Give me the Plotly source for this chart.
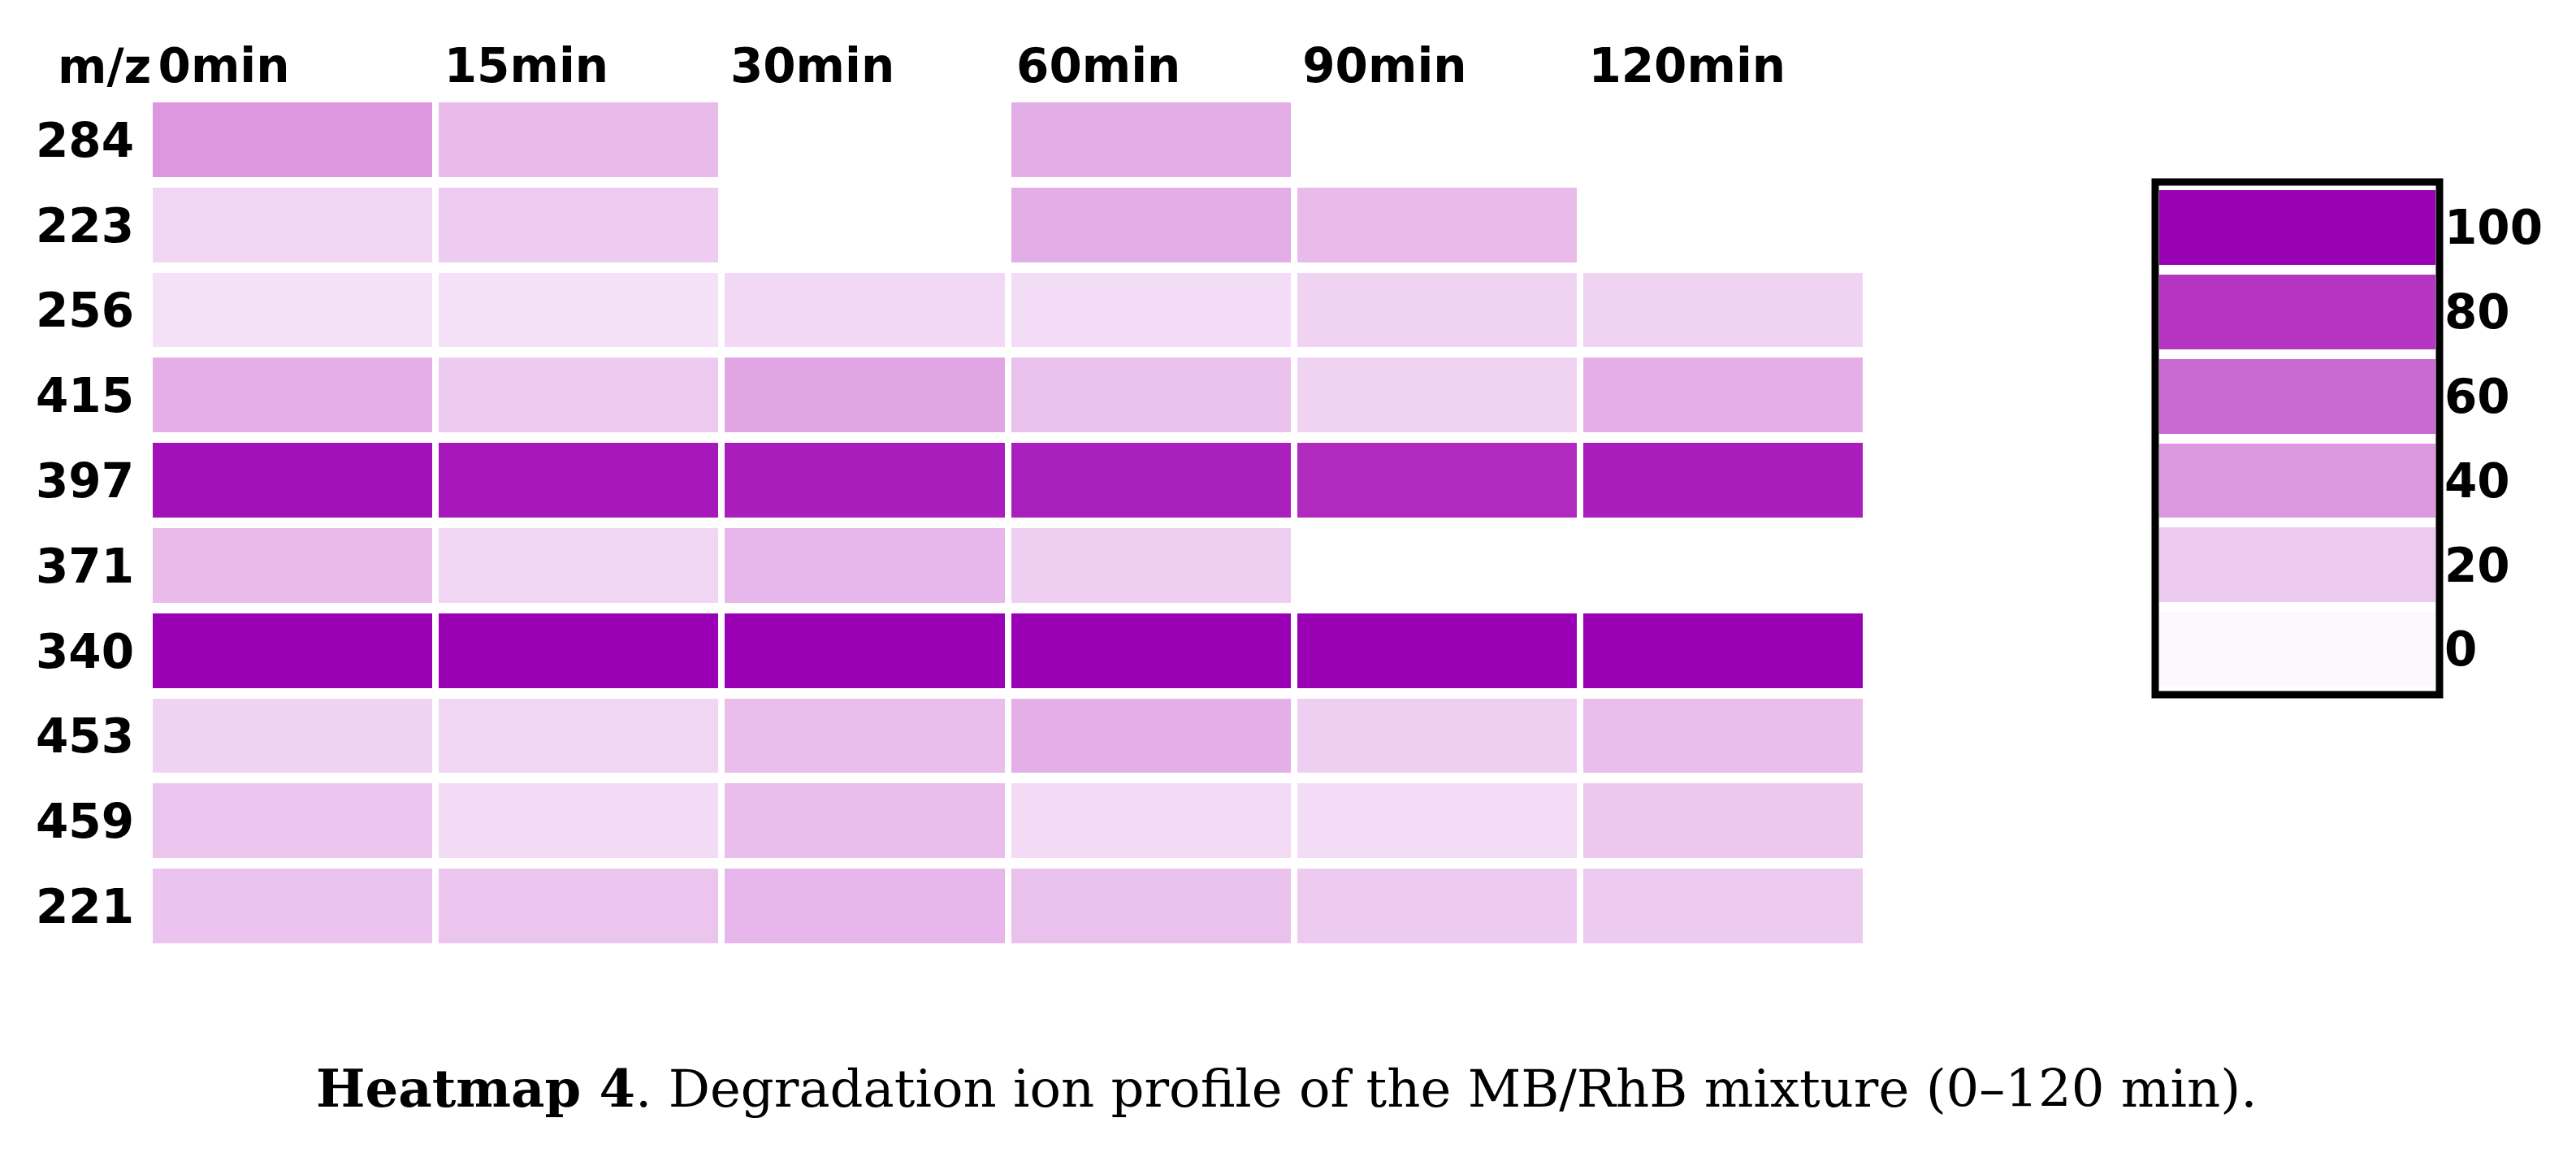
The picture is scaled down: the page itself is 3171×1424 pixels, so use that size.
import plotly.graph_objects as go

# m/z ions (rows) and sampling times (columns)
ions = ["284", "223", "256", "415", "397", "371", "340", "453", "459", "221"]
times = ["0min", "15min", "30min", "60min", "90min", "120min"]

# relative intensity (%), None = not detected
ion_284 = [41, 26, None, 32, None, None]
ion_223 = [15, 19, None, 32, 26, None]
ion_256 = [10, 10, 14, 12, 16, 16]
ion_415 = [31, 20, 35, 24, 16, 31]
ion_397 = [94, 91, 89, 88, 84, 89]
ion_371 = [26, 15, 28, 18, None, None]
ion_340 = [100, 100, 100, 100, 100, 100]
ion_453 = [16, 15, 25, 31, 18, 25]
ion_459 = [22, 13, 25, 13, 12, 21]
ion_221 = [23, 22, 28, 24, 20, 20]

scale_levels = [100, 80, 60, 40, 20, 0]
scale_labels = ["100", "80", "60", "40", "20", "0"]

z = [ion_284, ion_223, ion_256, ion_415, ion_397,
     ion_371, ion_340, ion_453, ion_459, ion_221]

purple = [
    [0.0, "#fdf8fd"],
    [0.2, "#edcaf0"],
    [0.4, "#dd99e0"],
    [0.6, "#c86ad0"],
    [0.8, "#b535c2"],
    [1.0, "#9a00b4"],
]

W, H = 3171, 1424
bold = dict(family="DejaVu Sans", size=58, color="black", weight="bold")

fig = go.Figure()
fig.add_trace(go.Heatmap(
    z=z, x=list(range(len(times))), y=ions,
    colorscale=purple, zmin=0, zmax=100,
    xgap=8, ygap=13, showscale=False,
    hovertemplate="m/z %{y}<br>%{x}<br>%{z}<extra></extra>",
))

# legend drawn as its own little heatmap
fig.add_trace(go.Heatmap(
    z=[[v] for v in scale_levels], x=[0], y=scale_labels,
    colorscale=purple, zmin=0, zmax=100,
    ygap=12, showscale=False, xaxis="x2", yaxis="y2",
    hoverinfo="skip",
))

fig.update_layout(
    width=W, height=H,
    margin=dict(l=0, r=0, t=0, b=0),
    paper_bgcolor="white", plot_bgcolor="white",
    showlegend=False,
    xaxis=dict(
        domain=[176 / W, 2289 / W], range=[-0.5, 5.5], side="top",
        tickvals=[i - 0.47 for i in range(len(times))], ticktext=times,
        ticklabelposition="outside right", tickfont=bold,
        ticks="", ticklabelstandoff=6,
        showgrid=False, zeroline=False, showline=False,
    ),
    yaxis=dict(
        domain=[1 - 1160 / H, 1 - 112 / H], autorange="reversed",
        tickfont=bold, ticks="", ticklabelstandoff=18,
        showgrid=False, zeroline=False, showline=False,
    ),
    xaxis2=dict(
        domain=[2650 / W, 2990 / W], range=[-0.5, 0.5], anchor="y2",
        visible=False,
    ),
    yaxis2=dict(
        domain=[1 - 843 / H, 1 - 220 / H], anchor="x2", side="right",
        autorange="reversed", tickfont=bold,
        ticks="", ticklabelstandoff=10,
        showgrid=False, zeroline=False, showline=False,
    ),
)

# heavy black frame round the legend
fig.add_shape(
    type="rect", xref="paper", yref="paper",
    x0=2645 / W, x1=2995 / W, y0=1 - 847 / H, y1=1 - 216 / H,
    line=dict(color="black", width=9), fillcolor="rgba(0,0,0,0)",
)

fig.add_annotation(
    text="m/z", xref="paper", yref="paper",
    x=180 / W, y=1 - 74 / H, xanchor="right", yanchor="middle",
    showarrow=False, font=bold,
)

fig.add_annotation(
    text="<b>Heatmap 4</b>. Degradation ion profile of the MB/RhB mixture (0–120 min).",
    xref="paper", yref="paper", x=0.497, y=1 - 1331 / H,
    xanchor="center", yanchor="middle", showarrow=False,
    font=dict(family="DejaVu Serif", size=64, color="black"),
)

fig.write_html("out.html")
